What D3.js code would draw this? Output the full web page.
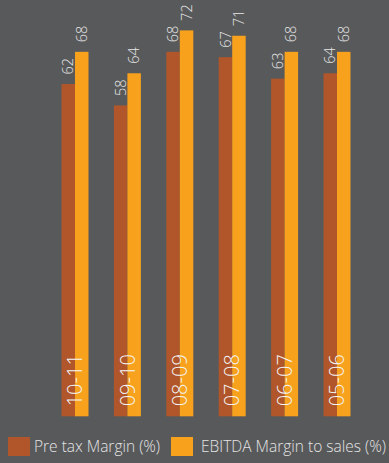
<!DOCTYPE html>
<html><head><meta charset="utf-8">
<script src="https://cdn.jsdelivr.net/npm/d3@7"></script>
<style>
html,body{margin:0;padding:0;background:#58595b;}
svg{display:block;font-family:"Open Sans",sans-serif;}
</style></head>
<body><svg id="c" width="389" height="463"></svg>
<script>
const categories = ["10-11","09-10","08-09","07-08","06-07","05-06"];
const seriesNames = ["Pre tax Margin (%)","EBITDA Margin to sales (%)"];
const preTax = [62,58,68,67,63,64];
const ebitda = [68,64,72,71,68,68];
const colors = ["#b0562a","#f7a11d"];

const svg = d3.select("#c");
svg.append("rect").attr("width",389).attr("height",463).attr("fill","#58595b");

const x0 = d3.scaleBand().domain(categories).range([48.8,363.2]).paddingInner(0.485).paddingOuter(0.2425);
const x1 = d3.scaleBand().domain(seriesNames).range([0,x0.bandwidth()]);
const y = d3.scaleLinear().domain([0,77.67]).range([416.3,0]);

const data = categories.map((c,i)=>({cat:c, vals:[preTax[i],ebitda[i]]}));

const g = svg.selectAll("g.grp").data(data).join("g").attr("class","grp")
  .attr("transform",d=>`translate(${x0(d.cat)},0)`);

g.selectAll("rect").data(d=>d.vals.map((v,j)=>({v,j}))).join("rect")
  .attr("x",d=>x1(seriesNames[d.j]))
  .attr("y",d=>y(d.v))
  .attr("width",x1.bandwidth())
  .attr("height",d=>y(0)-y(d.v))
  .attr("fill",d=>colors[d.j]);

g.selectAll("text.val").data(d=>d.vals.map((v,j)=>({v,j}))).join("text").attr("class","val")
  .attr("transform",d=>`translate(${x1(seriesNames[d.j])+x1.bandwidth()/2},${y(d.v)-9.5}) rotate(-90)`)
  .attr("dy","0.35em")
  .attr("text-anchor","start")
  .attr("font-size",14.5)
  .attr("font-weight",300)
  .attr("fill","#e8e8e8")
  .text(d=>d.v);

g.append("text")
  .attr("transform",`translate(${x0.bandwidth()/2},${y(0)-10}) rotate(-90)`)
  .attr("dy","0.36em")
  .attr("text-anchor","start")
  .attr("font-size",20)
  .attr("font-weight",300)
  .attr("fill","#f4f4f4")
  .text(d=>d.cat);

const legX = [8,171];
const legTx = [26,30];
const leg = svg.selectAll("g.leg").data(seriesNames).join("g").attr("class","leg")
  .attr("transform",(d,i)=>`translate(${legX[i]},437)`);
leg.append("rect").attr("width",22).attr("height",19).attr("fill",(d,i)=>colors[i]);
leg.append("text").attr("x",(d,i)=>legTx[i]).attr("y",9.5).attr("dy","0.35em")
  .attr("font-size",15.5).attr("font-weight",300).attr("fill","#e4e4e4").text(d=>d);
</script></body></html>
